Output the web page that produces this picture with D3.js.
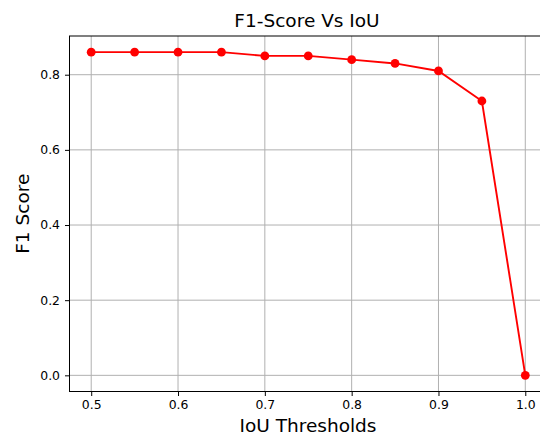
<!DOCTYPE html>
<html lang="en">
    <head>
        <meta charset="utf-8">
        <title>F1-Score Vs IoU</title>
        <script type="text/javascript" src="https://cdn.jsdelivr.net/npm/d3@7"></script>
        <style type="text/css">
            body {
                margin: 0;
                background-color: #ffffff;
            }
            svg text {
                font-family: "DejaVu Sans", sans-serif;
                fill: #000000;
            }
        </style>
    </head>
    <body>
        <script type="text/javascript">

            // data
            var thresholds = [0.5, 0.55, 0.6, 0.65, 0.7, 0.75, 0.8, 0.85, 0.9, 0.95, 1.0];
            var f1Scores = [0.86, 0.86, 0.86, 0.86, 0.85, 0.85, 0.84, 0.83, 0.81, 0.73, 0.0];
            var xTicks = [0.5, 0.6, 0.7, 0.8, 0.9, 1.0];
            var yTicks = [0.0, 0.2, 0.4, 0.6, 0.8];

            var w = 540;
            var h = 436;

            // plot box (window.top is read-only, so use own names)
            var pLeft = 69.5, pRight = 547, pTop = 36, pBottom = 391.5;

            var svg = d3.select('body').append('svg').attr('width', w).attr('height', h);

            // matplotlib style 5% margins
            var xPad = (d3.max(thresholds) - d3.min(thresholds)) * 0.05;
            var yPad = (d3.max(f1Scores) - d3.min(f1Scores)) * 0.05;

            var x = d3.scaleLinear()
                .domain([d3.min(thresholds) - xPad, d3.max(thresholds) + xPad])
                .range([pLeft, pRight]);
            var y = d3.scaleLinear()
                .domain([d3.min(f1Scores) - yPad, d3.max(f1Scores) + yPad])
                .range([pBottom, pTop]);

            // grid
            svg.append('g').selectAll('line')
                .data(xTicks).enter().append('line')
                .attr('x1', function (d) { return x(d); })
                .attr('x2', function (d) { return x(d); })
                .attr('y1', pTop).attr('y2', pBottom)
                .attr('stroke', '#b0b0b0').attr('stroke-width', 1);
            svg.append('g').selectAll('line')
                .data(yTicks).enter().append('line')
                .attr('y1', function (d) { return y(d); })
                .attr('y2', function (d) { return y(d); })
                .attr('x1', pLeft).attr('x2', pRight)
                .attr('stroke', '#b0b0b0').attr('stroke-width', 1);

            // axes
            var xAxis = svg.append('g')
                .attr('transform', 'translate(0,' + pBottom + ')')
                .call(d3.axisBottom(x).tickValues(xTicks).tickFormat(d3.format('.1f'))
                    .tickSizeOuter(0).tickSizeInner(4.5).tickPadding(4.5));
            var yAxis = svg.append('g')
                .attr('transform', 'translate(' + pLeft + ',0)')
                .call(d3.axisLeft(y).tickValues(yTicks).tickFormat(d3.format('.1f'))
                    .tickSizeOuter(0).tickSizeInner(4.5).tickPadding(5));

            [xAxis, yAxis].forEach(function (a) {
                a.selectAll('text').style('font-size', '12.4px').style('font-family', '"DejaVu Sans", sans-serif').attr('fill', '#000');
                a.selectAll('line').attr('stroke', '#000').attr('stroke-width', 1);
                a.select('.domain').remove();
            });

            // spines
            svg.append('rect')
                .attr('x', pLeft).attr('y', pTop)
                .attr('width', pRight - pLeft).attr('height', pBottom - pTop)
                .attr('fill', 'none').attr('stroke', '#000').attr('stroke-width', 1);

            // series
            var line = d3.line()
                .x(function (d, i) { return x(thresholds[i]); })
                .y(function (d) { return y(d); });

            svg.append('path')
                .datum(f1Scores)
                .attr('d', line)
                .attr('fill', 'none')
                .attr('stroke', '#ff0000')
                .attr('stroke-width', 1.9);

            svg.selectAll('circle')
                .data(f1Scores)
                .enter()
                .append('circle')
                .attr('cx', function (d, i) { return x(thresholds[i]); })
                .attr('cy', function (d) { return y(d); })
                .attr('r', 4.4)
                .attr('fill', '#ff0000');

            // labels
            svg.append('text')
                .attr('x', 307).attr('y', 26.5)
                .attr('text-anchor', 'middle')
                .style('font-size', '18.5px')
                .text('F1-Score Vs IoU');

            svg.append('text')
                .attr('x', 308).attr('y', 431.5)
                .attr('text-anchor', 'middle')
                .style('font-size', '18.5px')
                .text('IoU Thresholds');

            svg.append('text')
                .attr('transform', 'translate(29,' + ((pTop + pBottom) / 2) + ') rotate(-90)')
                .attr('text-anchor', 'middle')
                .style('font-size', '18.5px')
                .text('F1 Score');

        </script>
    </body>
</html>
